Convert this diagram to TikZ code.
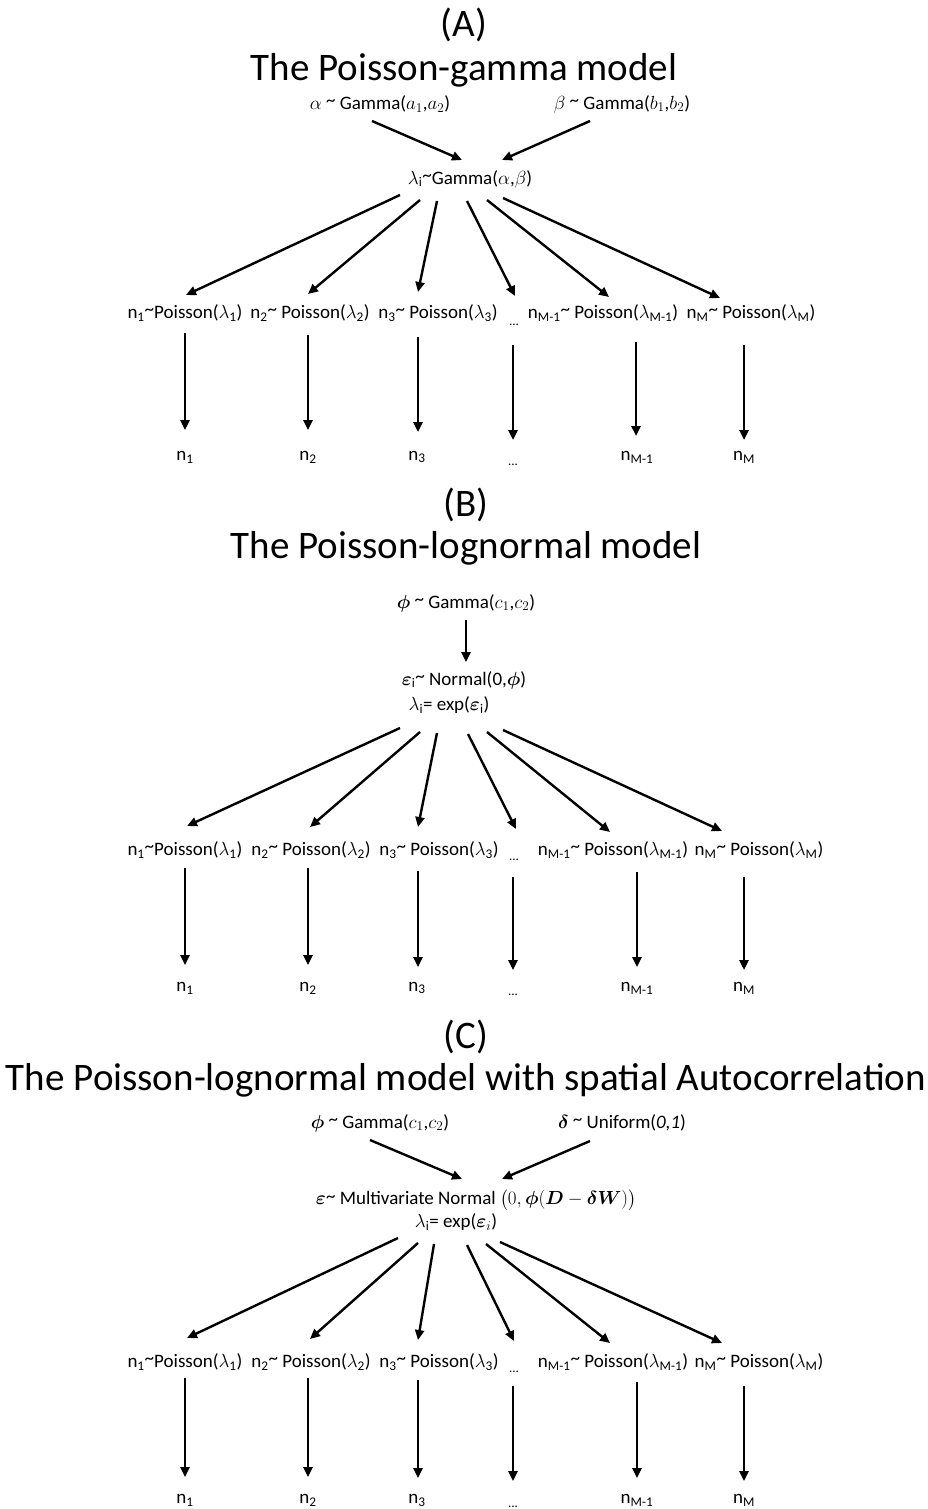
\documentclass[tikz,border=0pt]{standalone}
\usepackage{fix-cm}
\usepackage{amsmath}
\usepackage{fontspec}
\setmainfont{Carlito}
\usetikzlibrary{arrows.meta}
\newcommand{\mytl}{\raisebox{0.3ex}{\textasciitilde}}
\tikzset{
  lbl/.style={inner sep=0pt, font=\fontsize{19}{23}\selectfont},
  ttl/.style={inner sep=0pt, font=\fontsize{39}{45}\selectfont},
  dts/.style={inner sep=0pt, font=\fontsize{13}{15}\selectfont},
  arr/.style={line width=2.4pt, -{Triangle[length=10pt,width=9pt]}},
}
\begin{document}
\begin{tikzpicture}[x=1pt,y=-1pt]
\useasboundingbox[fill=white] (0,0) rectangle (928,1509);
% ===================== (A) =====================
\node[ttl] (lblA) at (464,25) {(A)};
\node[ttl] (titleA) at (464,70) {The Poisson-gamma model};
\node[lbl] (alpha) at (380,104) {$\alpha$ \mytl{} Gamma($a_1$,$a_2$)};
\node[lbl] (beta) at (622,104) {$\beta$ \mytl{} Gamma($b_1$,$b_2$)};
\node[lbl] (lamA) at (470,179) {$\lambda_{\text{i}}$\mytl Gamma($\alpha$,$\beta$)};
\node[lbl] (rA1) at (185,313) {n\textsubscript{1}\mytl Poisson($\lambda_{\text{1}}$)};
\node[lbl] (rA2) at (310,313) {n\textsubscript{2}\mytl{} Poisson($\lambda_{\text{2}}$)};
\node[lbl] (rA3) at (438,313) {n\textsubscript{3}\mytl{} Poisson($\lambda_{\text{3}}$)};
\node[dts] (dotsA) at (514,325) {...};
\node[lbl] (rA5) at (603,313) {n\textsubscript{M-1}\mytl{} Poisson($\lambda_{\text{M-1}}$)};
\node[lbl] (rA6) at (751,313) {n\textsubscript{M}\mytl{} Poisson($\lambda_{\text{M}}$)};
\node[lbl] (bA1) at (185,457) {n\textsubscript{1}};
\node[lbl] (bA2) at (308,457) {n\textsubscript{2}};
\node[lbl] (bA3) at (417,457) {n\textsubscript{3}};
\node[dts] (bdA) at (513,465) {...};
\node[lbl] (bA5) at (637,457) {n\textsubscript{M-1}};
\node[lbl] (bA6) at (744,457) {n\textsubscript{M}};
\draw[arr] ([shift={(-8,17)}]alpha.center) -- ([shift={(-8,-19)}]lamA.center);
\draw[arr] ([shift={(-32,17)}]beta.center) -- ([shift={(32,-19)}]lamA.center);
\draw[arr] ([shift={(-70,16)}]lamA.center) -- ([shift={(1,-18)}]rA1.center);
\draw[arr] ([shift={(-50,21)}]lamA.center) -- ([shift={(-2,-19)}]rA2.center);
\draw[arr] ([shift={(-33,22)}]lamA.center) -- ([shift={(-20,-21)}]rA3.center);
\draw[arr] ([shift={(-3,22)}]lamA.center) -- ([shift={(1,-29)}]dotsA.center);
\draw[arr] ([shift={(17,21)}]lamA.center) -- ([shift={(6,-16)}]rA5.center);
\draw[arr] ([shift={(33,19)}]lamA.center) -- ([shift={(-31,-15)}]rA6.center);
\draw[arr] ([shift={(0,20)}]rA1.center) -- ([shift={(0,-27)}]bA1.center);
\draw[arr] ([shift={(-2,22)}]rA2.center) -- ([shift={(0,-27)}]bA2.center);
\draw[arr] ([shift={(-20,24)}]rA3.center) -- ([shift={(1,-25)}]bA3.center);
\draw[arr] ([shift={(-1,20)}]dotsA.center) -- ([shift={(0,-25)}]bdA.center);
\draw[arr] ([shift={(33,29)}]rA5.center) -- ([shift={(-1,-21)}]bA5.center);
\draw[arr] ([shift={(-7,32)}]rA6.center) -- ([shift={(0,-17)}]bA6.center);
% ===================== (B) =====================
\node[ttl] (lblB) at (466,505) {(B)};
\node[ttl] (titleB) at (466,548) {The Poisson-lognormal model};
\node[lbl] (phiB) at (466,603) {$\boldsymbol{\phi}$ \mytl{} Gamma($c_1$,$c_2$)};
\node[lbl] (epsB) at (464,680) {$\boldsymbol{\varepsilon}_{\text{i}}$\mytl{} Normal(0,$\boldsymbol{\phi}$)};
\node[lbl] (lamB) at (449,705) {$\lambda_{\text{i}}$= exp($\boldsymbol{\varepsilon}_{\text{i}}$)};
\node[lbl] (rB1) at (185,850) {n\textsubscript{1}\mytl Poisson($\lambda_{\text{1}}$)};
\node[lbl] (rB2) at (311,850) {n\textsubscript{2}\mytl{} Poisson($\lambda_{\text{2}}$)};
\node[lbl] (rB3) at (439,850) {n\textsubscript{3}\mytl{} Poisson($\lambda_{\text{3}}$)};
\node[dts] (dotsB) at (514,860) {...};
\node[lbl] (rB5) at (613,850) {n\textsubscript{M-1}\mytl{} Poisson($\lambda_{\text{M-1}}$)};
\node[lbl] (rB6) at (759,850) {n\textsubscript{M}\mytl{} Poisson($\lambda_{\text{M}}$)};
\node[lbl] (bB1) at (185,988) {n\textsubscript{1}};
\node[lbl] (bB2) at (308,988) {n\textsubscript{2}};
\node[lbl] (bB3) at (417,988) {n\textsubscript{3}};
\node[dts] (bdB) at (513,995) {...};
\node[lbl] (bB5) at (637,988) {n\textsubscript{M-1}};
\node[lbl] (bB6) at (744,988) {n\textsubscript{M}};
\draw[arr] ([shift={(0,17)}]phiB.center) -- ([shift={(2,-18)}]epsB.center);
\draw[arr] ([shift={(-49,23)}]lamB.center) -- ([shift={(2,-24)}]rB1.center);
\draw[arr] ([shift={(-29,27)}]lamB.center) -- ([shift={(-1,-23)}]rB2.center);
\draw[arr] ([shift={(-12,28)}]lamB.center) -- ([shift={(-21,-23)}]rB3.center);
\draw[arr] ([shift={(19,29)}]lamB.center) -- ([shift={(2,-31)}]dotsB.center);
\draw[arr] ([shift={(38,27)}]lamB.center) -- ([shift={(-3,-18)}]rB5.center);
\draw[arr] ([shift={(54,25)}]lamB.center) -- ([shift={(-37,-19)}]rB6.center);
\draw[arr] ([shift={(0,18)}]rB1.center) -- ([shift={(0,-23)}]bB1.center);
\draw[arr] ([shift={(-3,18)}]rB2.center) -- ([shift={(0,-23)}]bB2.center);
\draw[arr] ([shift={(-21,21)}]rB3.center) -- ([shift={(1,-21)}]bB3.center);
\draw[arr] ([shift={(-1,17)}]dotsB.center) -- ([shift={(0,-25)}]bdB.center);
\draw[arr] ([shift={(24,22)}]rB5.center) -- ([shift={(0,-21)}]bB5.center);
\draw[arr] ([shift={(-15,27)}]rB6.center) -- ([shift={(0,-18)}]bB6.center);
% ===================== (C) =====================
\node[ttl] (lblC) at (466,1037) {(C)};
\node[ttl] (titleC) at (466,1080) {The Poisson-lognormal model with spatial Autocorrelation};
\node[lbl] (phiC) at (380,1123) {$\boldsymbol{\phi}$ \mytl{} Gamma($c_1$,$c_2$)};
\node[lbl] (deltaC) at (622,1123) {$\boldsymbol{\delta}$ \mytl{} Uniform(\textit{0,1})};
\node[lbl] (epsC) at (476,1200) {$\boldsymbol{\varepsilon}$\mytl{} Multivariate Normal $\bigl(0,\boldsymbol{\phi}(\boldsymbol{D}-\boldsymbol{\delta W})\bigr)$};
\node[lbl] (lamC) at (456,1222) {$\lambda_{\text{i}}$= exp($\boldsymbol{\varepsilon}_i$)};
\node[lbl] (rC1) at (185,1362) {n\textsubscript{1}\mytl Poisson($\lambda_{\text{1}}$)};
\node[lbl] (rC2) at (311,1362) {n\textsubscript{2}\mytl{} Poisson($\lambda_{\text{2}}$)};
\node[lbl] (rC3) at (439,1362) {n\textsubscript{3}\mytl{} Poisson($\lambda_{\text{3}}$)};
\node[dts] (dotsC) at (514,1372) {...};
\node[lbl] (rC5) at (613,1362) {n\textsubscript{M-1}\mytl{} Poisson($\lambda_{\text{M-1}}$)};
\node[lbl] (rC6) at (759,1362) {n\textsubscript{M}\mytl{} Poisson($\lambda_{\text{M}}$)};
\node[lbl] (bC1) at (185,1500) {n\textsubscript{1}};
\node[lbl] (bC2) at (308,1500) {n\textsubscript{2}};
\node[lbl] (bC3) at (417,1500) {n\textsubscript{3}};
\node[dts] (bdC) at (513,1507) {...};
\node[lbl] (bC5) at (637,1500) {n\textsubscript{M-1}};
\node[lbl] (bC6) at (744,1500) {n\textsubscript{M}};
\draw[arr] ([shift={(-10,17)}]phiC.center) -- ([shift={(-14,-21)}]epsC.center);
\draw[arr] ([shift={(-32,18)}]deltaC.center) -- ([shift={(26,-21)}]epsC.center);
\draw[arr] ([shift={(-58,16)}]lamC.center) -- ([shift={(2,-24)}]rC1.center);
\draw[arr] ([shift={(-38,21)}]lamC.center) -- ([shift={(-1,-23)}]rC2.center);
\draw[arr] ([shift={(-22,22)}]lamC.center) -- ([shift={(-21,-22)}]rC3.center);
\draw[arr] ([shift={(11,23)}]lamC.center) -- ([shift={(0,-31)}]dotsC.center);
\draw[arr] ([shift={(30,22)}]lamC.center) -- ([shift={(-3,-19)}]rC5.center);
\draw[arr] ([shift={(44,20)}]lamC.center) -- ([shift={(-37,-19)}]rC6.center);
\draw[arr] ([shift={(0,16)}]rC1.center) -- ([shift={(0,-23)}]bC1.center);
\draw[arr] ([shift={(-3,16)}]rC2.center) -- ([shift={(0,-23)}]bC2.center);
\draw[arr] ([shift={(-21,18)}]rC3.center) -- ([shift={(1,-22)}]bC3.center);
\draw[arr] ([shift={(-1,14)}]dotsC.center) -- ([shift={(0,-26)}]bdC.center);
\draw[arr] ([shift={(24,20)}]rC5.center) -- ([shift={(0,-22)}]bC5.center);
\draw[arr] ([shift={(-15,24)}]rC6.center) -- ([shift={(0,-19)}]bC6.center);
\end{tikzpicture}
\end{document}
